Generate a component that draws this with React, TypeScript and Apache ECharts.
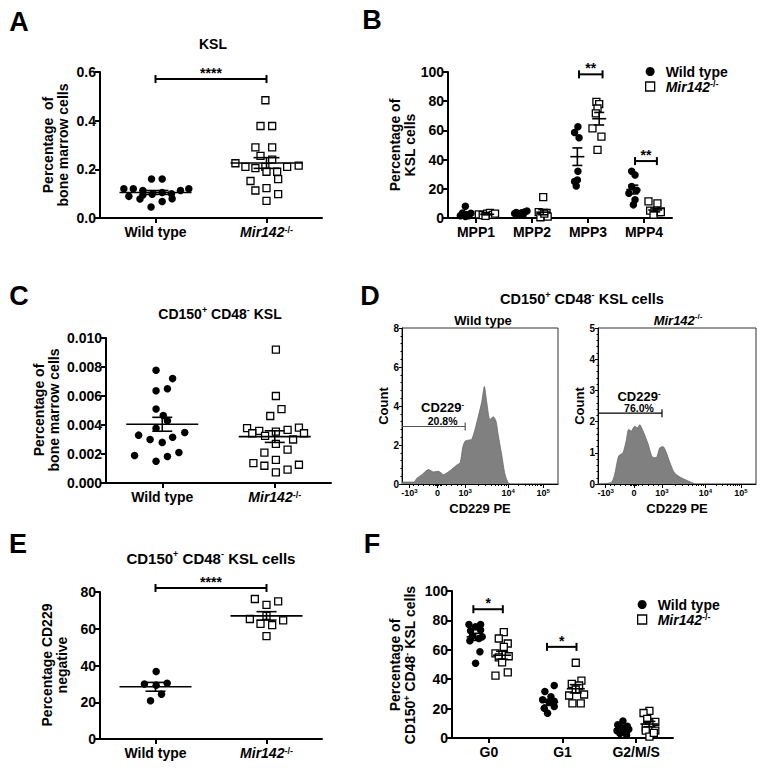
import React, { useEffect, useRef } from "react";
import * as echarts from "echarts";

const FONT = '"Liberation Sans", Arial, Helvetica, sans-serif';

// ---------------- Panel A: KSL ----------------
const groupLabels = ["Wild type", "Mir142-/-"];
const aWildType: number[][] = [
  [-0.285, 0.12], [-0.2, 0.12], [-0.114, 0.113], [-0.24, 0.089], [-0.14, 0.078],
  [-0.036, 0.16], [0.06, 0.16], [-0.03, 0.098], [-0.04, 0.045], [0.06, 0.068],
  [0.15, 0.079], [0.225, 0.113], [0.3, 0.12], [0.06, 0.105], [0.144, 0.1], [-0.114, 0.095],
];
const aMir142: number[][] = [
  [-0.01, 0.484], [-0.054, 0.378], [0.051, 0.378], [-0.1, 0.29], [0.051, 0.29],
  [-0.054, 0.255], [0.051, 0.24], [-0.28, 0.225], [-0.19, 0.21], [-0.1, 0.205],
  [-0.01, 0.21], [0.186, 0.21], [0.29, 0.215], [0, 0.19], [0.096, 0.19],
  [-0.144, 0.152], [0.105, 0.16], [-0.1, 0.113], [0, 0.123], [0.105, 0.098], [0, 0.07],
];
const aMean = [0.105, 0.226];
const aSem = [0.008, 0.022];
const aSig = [[0.5, 1.5, 0.571]];
const aSigLabels = ["****"];

// ---------------- Panel B: MPP subsets ----------------
const mppCategories = ["MPP1", "MPP2", "MPP3", "MPP4"];
const bWildType: number[][][] = [
  [[0, 8], [-0.05, 3.4], [-0.09, 1.6], [0.06, 1.6], [0, 1], [0.1, 3.2], [0.02, 2.3]],
  [[-0.12, 3], [-0.06, 2.5], [0, 3.5], [0.05, 4], [0.1, 4.8], [0.03, 2], [-0.09, 3.8]],
  [[0.01, 62.5], [-0.05, 58.6], [0.03, 55], [0.01, 32], [0, 26], [-0.02, 22], [-0.05, 25]],
  [[-0.03, 32], [0.03, 29.5], [-0.03, 21.6], [0.06, 19], [-0.08, 17], [0.03, 12.5], [0, 9]],
];
const bMir142: number[][][] = [
  [[-0.15, 2.5], [-0.08, 2], [0, 3], [0.05, 3.5], [0.1, 2.2], [0.14, 3], [-0.03, 1.5]],
  [[0, 14.3], [-0.08, 4], [0.06, 3.5], [0, 1.5], [-0.05, 0.5], [0.08, 1], [0.02, 3]],
  [[-0.05, 79.5], [0, 78], [-0.03, 75], [-0.06, 71.6], [-0.12, 61.4], [0.04, 55.7], [-0.03, 46.6]],
  [[-0.12, 11.4], [0.04, 10], [-0.09, 5], [0.06, 4], [0.1, 4.5], [-0.03, 2.3], [0.1, 4]],
];
const bWtMean = [2.8, 3.4, 42, 19.5];
const bWtSem = [1, 0.4, 6, 3];
const bMirMean = [2.5, 4, 68, 5.5];
const bMirSem = [0.3, 1.8, 4.3, 1.3];
const bSig = [[2.34, 2.76, 98.4], [3.34, 3.73, 39]];
const bSigLabels = ["**", "**"];

// ---------------- Panel C: CD150+ CD48- KSL ----------------
const cWildType: number[][] = [
  [-0.055, 0.00778], [0.092, 0.0072], [-0.055, 0.00636], [0.046, 0.0065], [-0.055, 0.0051],
  [0.009, 0.00465], [0.046, 0.0043], [-0.055, 0.00378], [-0.21, 0.0033], [0.2, 0.00348],
  [-0.108, 0.003], [0, 0.0028], [0.092, 0.00316], [-0.246, 0.0019], [-0.055, 0.0015],
  [0.046, 0.00183], [0.148, 0.0021],
];
const cMir142: number[][] = [
  [0.01, 0.0092], [0.01, 0.006], [0.06, 0.0051], [-0.04, 0.00462], [-0.246, 0.00378],
  [-0.138, 0.0036], [-0.2, 0.00343], [-0.086, 0.00325], [0.01, 0.00355], [0.114, 0.00366],
  [0.215, 0.00382], [0.26, 0.00343], [0.163, 0.003], [0.01, 0.0027], [0.114, 0.0023],
  [-0.092, 0.0021], [-0.19, 0.00137], [-0.092, 0.00119], [0.01, 0.0016], [0.01, 0.00073],
  [0.114, 0.00092], [0.215, 0.00126],
];
const cMean = [0.00405, 0.0032];
const cSem = [0.00048, 0.0004];

// ---------------- Panel D: CD229 PE histograms ----------------
const dTickPositions = [48, 228, 405, 680, 905];
const dTickLabels = ["-10{s|3}", "0", "10{s|3}", "10{s|4}", "10{s|5}"];
const dWildType: number[][] = [
  [0, 0.1], [75, 0.1], [96, 0.3], [128, 0.48], [170, 0.74], [202, 0.62], [234, 0.65],
  [266, 0.48], [309, 0.69], [351, 0.97], [373, 1.1], [390, 1.9], [405, 2.2], [426, 2.25],
  [447, 2.3], [468, 2.8], [490, 3.5], [511, 4.2], [528, 5.0], [543, 4.2], [564, 3.3],
  [585, 3.45], [603, 3.2], [617, 2.5], [639, 1.5], [660, 0.5], [681, 0.05], [692, 0],
];
const dMir142: number[][] = [
  [0, 0], [84, 0.05], [105, 0.3], [131, 0.9], [158, 1.0], [179, 1.4], [194, 1.75],
  [211, 1.7], [232, 1.85], [250, 1.8], [264, 1.9], [285, 1.7], [316, 1.3], [348, 0.85],
  [369, 0.85], [390, 1.15], [411, 1.2], [433, 1.0], [454, 0.7], [485, 0.35], [527, 0.2],
  [570, 0.1], [601, 0.03], [612, 0],
];
const dGates = [[0, 405, 2.95], [0, 405, 2.27]];
const dGateNames = ["CD229{s|-}", "CD229{s|-}"];
const dGatePercents = ["20.8%", "76.0%"];

// ---------------- Panel E: CD229 negative ----------------
const eWildType: number[][] = [
  [0.006, 36.7], [-0.1, 29.9], [0.006, 29.3], [0.105, 30.3], [-0.045, 20.8], [0.054, 24.4],
];
const eMir142: number[][] = [
  [-0.105, 76.2], [0, 73], [0.105, 74.9], [-0.15, 65.3], [-0.054, 62.6], [0.051, 62],
  [0.15, 64.6], [0, 56], [0, 67],
];
const eMean = [28.4, 67];
const eSem = [2.4, 2.3];
const eSig = [[0.5, 1.5, 82.2]];
const eSigLabels = ["****"];

// ---------------- Panel F: cell cycle ----------------
const cycleCategories = ["G0", "G1", "G2/M/S"];
const fWildType: number[][][] = [
  [[-0.09, 77.2], [0.068, 77.2], [0, 75.6], [-0.068, 72.9], [0.068, 73.4], [-0.045, 69.3],
   [0.045, 67.7], [-0.077, 66.1], [0.09, 68.8], [0.059, 58.7], [0, 50.8]],
  [[-0.059, 31.6], [0.068, 35.7], [0.023, 28], [0, 24.2], [-0.09, 26], [0.068, 25],
   [-0.068, 20.3], [-0.023, 16.9], [0.068, 21.4]],
  [[0, 11.5], [-0.07, 9], [0.06, 8], [-0.03, 7], [0.08, 6], [-0.08, 5], [0.03, 4],
   [-0.04, 3], [0.05, 2], [0, 6.5]],
];
const fMir142: number[][][] = [
  [[0.023, 72], [-0.045, 67.7], [0.077, 64.3], [0.023, 62], [-0.09, 57.6], [0.09, 55.6],
   [-0.045, 54.9], [0, 51.5], [-0.09, 42.5], [0.077, 44.7]],
  [[0, 51.2], [0.077, 39], [-0.054, 36.8], [0.045, 35.7], [-0.09, 28.9], [0.113, 29.6],
   [-0.045, 23.5], [0.068, 23.5], [0, 33]],
  [[0, 18.5], [-0.08, 17], [0.08, 11], [0, 10], [-0.05, 7], [0.08, 5], [-0.05, 5],
   [0, 1], [0.06, 3.5], [-0.03, 13]],
];
const fWtMean = [68.8, 24.3, 6.3];
const fWtSem = [2.4, 2, 1];
const fMirMean = [56.3, 33.5, 9.5];
const fMirSem = [2.7, 2.8, 1.8];
const fSig = [[0.29, 0.69, 87.6], [1.29, 1.69, 62]];
const fSigLabels = ["*", "*"];

// ---------------- helpers ----------------
const place = (pts: number[][], center: number) => pts.map(([dx, v]) => [center + dx, v]);
const spread = (groups: number[][][], offset: number) =>
  groups.flatMap((pts, ci) => place(pts, ci + 0.5 + offset));
const meanData = (means: number[], sems: number[], offset: number) =>
  means.map((m, i) => [i + 0.5 + offset, m, sems[i]]);

const richSup = {
  i: { fontFamily: FONT, fontWeight: "bold", fontStyle: "italic", fontSize: 14, color: "#000" },
  s: { fontFamily: FONT, fontWeight: "bold", fontSize: 9, color: "#000", verticalAlign: "top" },
};
const fmtGroup = (s: string) => (s.startsWith("Mir142") ? "{i|Mir142}{s|-/-}" : s);

const catX = (gi: number, cats: string[]) => {
  const pos = cats.map((_, i) => i + 0.5);
  return {
    type: "value", gridIndex: gi, min: 0, max: cats.length, position: "bottom",
    axisLine: { show: true, onZero: false, lineStyle: { color: "#000", width: 2 } },
    axisTick: { show: true, length: 5, customValues: pos, lineStyle: { color: "#000", width: 2 } },
    axisLabel: {
      show: true, customValues: pos, margin: 7,
      formatter: (v: number) => fmtGroup(cats[Math.round(v - 0.5)] ?? ""),
      fontFamily: FONT, fontWeight: "bold", fontSize: 14, color: "#000", rich: richSup,
    },
    splitLine: { show: false },
  };
};

const valY = (gi: number, max: number, interval: number, dec: number) => ({
  type: "value", gridIndex: gi, min: 0, max, interval,
  axisLine: { show: true, onZero: false, lineStyle: { color: "#000", width: 2 } },
  axisTick: { show: true, length: 5, lineStyle: { color: "#000", width: 2 } },
  axisLabel: {
    formatter: (v: number) => v.toFixed(dec), margin: 4,
    fontFamily: FONT, fontWeight: "bold", fontSize: 14, color: "#000",
  },
  splitLine: { show: false },
});

const dX = (gi: number) => ({
  type: "value", gridIndex: gi, min: 0, max: 1000, position: "bottom",
  name: "CD229 PE", nameLocation: "middle", nameGap: 18,
  nameTextStyle: { fontFamily: FONT, fontWeight: "bold", fontSize: 13, color: "#000" },
  axisLine: { show: true, onZero: false, lineStyle: { color: "#000", width: 1 } },
  axisTick: { show: true, length: 4, customValues: dTickPositions, lineStyle: { color: "#000", width: 1 } },
  axisLabel: {
    show: true, customValues: dTickPositions, margin: 4,
    formatter: (v: number) => {
      const k = dTickPositions.findIndex((p) => Math.abs(p - v) < 0.5);
      return k >= 0 ? dTickLabels[k] : "";
    },
    fontFamily: FONT, fontWeight: "bold", fontSize: 9, color: "#000",
    rich: { s: { fontFamily: FONT, fontWeight: "bold", fontSize: 6, color: "#000", verticalAlign: "top" } },
  },
  splitLine: { show: false },
});

const minorPositions = (() => {
  const out: number[] = [];
  const [, z, p3, p4, p5] = dTickPositions;
  [0.04, 0.08, 0.15, 0.3, 0.5, 0.7, 0.85].forEach((f) => {
    out.push(z - (z - dTickPositions[0]) * f, z + (p3 - z) * f);
  });
  for (let k = 2; k <= 9; k++) {
    out.push(p3 + (p4 - p3) * Math.log10(k));
    out.push(p4 + (p5 - p4) * Math.log10(k));
  }
  return out;
})();

const dMinorX = (gi: number) => ({
  type: "value", gridIndex: gi, min: 0, max: 1000, position: "bottom",
  axisLine: { show: false, onZero: false },
  axisTick: { show: true, length: 2, customValues: minorPositions, lineStyle: { color: "#000", width: 1 } },
  axisLabel: { show: false },
  splitLine: { show: false },
});

const dY = (gi: number, max: number, interval: number) => ({
  type: "value", gridIndex: gi, min: 0, max, interval,
  axisLine: { show: true, onZero: false, lineStyle: { color: "#000", width: 1 } },
  axisTick: { show: true, length: 3, lineStyle: { color: "#000", width: 1 } },
  minorTick: { show: true, splitNumber: 5, length: 1.5, lineStyle: { color: "#000", width: 1 } },
  axisLabel: { margin: 3, fontFamily: FONT, fontWeight: "bold", fontSize: 10, color: "#000" },
  splitLine: { show: false },
  minorSplitLine: { show: false },
});

const wtScatter = (gi: number, data: number[][]) => ({
  type: "scatter", name: "Wild type", xAxisIndex: gi, yAxisIndex: gi, data,
  symbol: "circle", symbolSize: 7.5, itemStyle: { color: "#000", opacity: 1 }, clip: false, z: 2,
});
const koScatter = (gi: number, data: number[][]) => ({
  type: "scatter", name: "Mir142", xAxisIndex: gi, yAxisIndex: gi, data,
  symbol: "rect", symbolSize: 7,
  itemStyle: { color: "#fff", borderColor: "#000", borderWidth: 1.3, opacity: 1 },
  clip: false, z: 2,
});

const meanSem = (gi: number, data: number[][], hw: number, cw: number) => ({
  type: "custom", xAxisIndex: gi, yAxisIndex: gi, data, z: 5, clip: false, silent: true,
  renderItem: (_p: any, api: any) => {
    const x = api.value(0), m = api.value(1), s = api.value(2);
    const [cx, cy] = api.coord([x, m]);
    const ty = api.coord([x, m + s])[1];
    const by = api.coord([x, m - s])[1];
    const st = { stroke: "#000", lineWidth: 1.6 };
    return {
      type: "group",
      children: [
        { type: "line", shape: { x1: cx - hw, y1: cy, x2: cx + hw, y2: cy }, style: st },
        { type: "line", shape: { x1: cx, y1: ty, x2: cx, y2: by }, style: st },
        { type: "line", shape: { x1: cx - cw, y1: ty, x2: cx + cw, y2: ty }, style: st },
        { type: "line", shape: { x1: cx - cw, y1: by, x2: cx + cw, y2: by }, style: st },
      ],
    };
  },
});

const sigBars = (gi: number, data: number[][], labels: string[]) => ({
  type: "custom", xAxisIndex: gi, yAxisIndex: gi, data, z: 5, clip: false, silent: true,
  renderItem: (p: any, api: any) => {
    const a = api.coord([api.value(0), api.value(2)]);
    const b = api.coord([api.value(1), api.value(2)]);
    const st = { stroke: "#000", lineWidth: 2 };
    return {
      type: "group",
      children: [
        { type: "line", shape: { x1: a[0], y1: a[1], x2: b[0], y2: b[1] }, style: st },
        { type: "line", shape: { x1: a[0], y1: a[1] - 4, x2: a[0], y2: a[1] + 4 }, style: st },
        { type: "line", shape: { x1: b[0], y1: b[1] - 4, x2: b[0], y2: b[1] + 4 }, style: st },
        {
          type: "text", x: (a[0] + b[0]) / 2, y: a[1] + 1,
          style: {
            text: labels[p.dataIndex], fill: "#000", fontFamily: FONT, fontWeight: "bold",
            fontSize: 14, align: "center", verticalAlign: "bottom",
          },
        },
      ],
    };
  },
});

const gateSeries = (gi: number, k: number, color: string, labelDy: number) => ({
  type: "custom", xAxisIndex: gi, yAxisIndex: gi, data: [dGates[k]], z: 5, clip: false, silent: true,
  renderItem: (_p: any, api: any) => {
    const a = api.coord([api.value(0), api.value(2)]);
    const b = api.coord([api.value(1), api.value(2)]);
    const mid = (a[0] + b[0]) / 2 + 9;
    const st = { stroke: color, lineWidth: 1.2 };
    return {
      type: "group",
      children: [
        { type: "line", shape: { x1: a[0], y1: a[1], x2: b[0], y2: b[1] }, style: st },
        { type: "line", shape: { x1: b[0], y1: b[1] - 4, x2: b[0], y2: b[1] + 4 }, style: st },
        {
          type: "text", x: mid, y: a[1] - labelDy,
          style: {
            text: dGateNames[k], fill: "#000", fontFamily: FONT, fontWeight: "bold", fontSize: 13,
            align: "center", verticalAlign: "middle",
            rich: { s: { fontFamily: FONT, fontWeight: "bold", fontSize: 8, fill: "#000", verticalAlign: "top" } },
          },
        },
        {
          type: "text", x: mid, y: a[1] - 5,
          style: {
            text: dGatePercents[k], fill: "#000", fontFamily: FONT, fontWeight: "bold", fontSize: 10.5,
            align: "center", verticalAlign: "middle",
          },
        },
      ],
    };
  },
});

const histSeries = (gi: number, data: number[][]) => ({
  type: "line", xAxisIndex: gi, yAxisIndex: gi, data, smooth: 0.25, symbol: "none",
  lineStyle: { color: "#6a6a6a", width: 0.8 },
  areaStyle: { color: "#808080", opacity: 1 },
  z: 2, silent: true,
});

const legendCfg = (left: number, top: number) => ({
  left, top, orient: "vertical", itemGap: 0, itemWidth: 9, itemHeight: 9, padding: 0,
  selectedMode: false,
  data: [
    { name: "Wild type", icon: "circle", itemStyle: { color: "#000", opacity: 1 } },
    { name: "Mir142", icon: "rect", itemStyle: { color: "#fff", borderColor: "#000", borderWidth: 1.3 } },
  ],
  formatter: (n: string) => (n === "Mir142" ? "{i|Mir142}{s|-/-}" : n),
  textStyle: {
    fontFamily: FONT, fontWeight: "bold", fontSize: 14, color: "#000", lineHeight: 15,
    padding: [0, 0, 0, 6], rich: richSup,
  },
});

const txt = (text: string, x: number, y: number, size: number, rot = 0, lineHeight?: number) => ({
  type: "text", x, y, rotation: rot, silent: true,
  style: {
    text, fill: "#000", fontFamily: FONT, fontWeight: "bold", fontSize: size,
    lineHeight: lineHeight ?? Math.round(size * 1.2),
    align: "center", verticalAlign: "middle", textAlign: "center", textVerticalAlign: "middle",
    rich: {
      s: { fontFamily: FONT, fontWeight: "bold", fontSize: Math.round(size * 0.62), fill: "#000", verticalAlign: "top" },
      i: { fontFamily: FONT, fontWeight: "bold", fontStyle: "italic", fontSize: size, fill: "#000" },
    },
  },
});
const V = Math.PI / 2;

export default function App() {
  const ref = useRef<HTMLDivElement>(null);
  useEffect(() => {
    if (!ref.current) return;
    const chart = echarts.init(ref.current, undefined, { renderer: "svg" });
    const option: any = {
      animation: false,
      backgroundColor: "#fff",
      textStyle: { fontFamily: FONT },
      grid: [
        { left: 100, top: 72, width: 222, height: 146 },
        { left: 448, top: 72, width: 224, height: 146 },
        { left: 106, top: 338, width: 225, height: 145 },
        { left: 402, top: 328, width: 156, height: 156, show: true, borderColor: "#333", borderWidth: 1 },
        { left: 598, top: 328, width: 158, height: 156, show: true, borderColor: "#333", borderWidth: 1 },
        { left: 100, top: 592, width: 222, height: 147 },
        { left: 452, top: 591, width: 221, height: 147 },
      ],
      xAxis: [
        catX(0, groupLabels),
        catX(1, mppCategories),
        catX(2, groupLabels),
        dX(3),
        dX(4),
        catX(5, groupLabels),
        catX(6, cycleCategories),
        dMinorX(3),
        dMinorX(4),
      ],
      yAxis: [
        valY(0, 0.6, 0.2, 1),
        valY(1, 100, 20, 0),
        valY(2, 0.01, 0.002, 3),
        dY(3, 8, 2),
        dY(4, 5, 1),
        valY(5, 80, 20, 0),
        valY(6, 100, 20, 0),
      ],
      legend: [legendCfg(645, 64), legendCfg(637, 597)],
      series: [
        // A
        wtScatter(0, place(aWildType, 0.5)),
        koScatter(0, place(aMir142, 1.5)),
        meanSem(0, [[0.5, aMean[0], aSem[0]], [1.5, aMean[1], aSem[1]]], 36, 13),
        sigBars(0, aSig, aSigLabels),
        // B
        wtScatter(1, spread(bWildType, -0.19)),
        koScatter(1, spread(bMir142, 0.2)),
        meanSem(1, meanData(bWtMean, bWtSem, -0.19), 7, 5),
        meanSem(1, meanData(bMirMean, bMirSem, 0.2), 7, 5),
        sigBars(1, bSig, bSigLabels),
        // C
        wtScatter(2, place(cWildType, 0.5)),
        koScatter(2, place(cMir142, 1.5)),
        meanSem(2, [[0.5, cMean[0], cSem[0]], [1.5, cMean[1], cSem[1]]], 36, 10),
        // D
        histSeries(3, dWildType),
        histSeries(4, dMir142),
        gateSeries(3, 0, "#555", 19),
        gateSeries(4, 1, "#000", 17),
        // E
        wtScatter(5, place(eWildType, 0.5)),
        koScatter(5, place(eMir142, 1.5)),
        meanSem(5, [[0.5, eMean[0], eSem[0]], [1.5, eMean[1], eSem[1]]], 36, 10),
        sigBars(5, eSig, eSigLabels),
        // F
        wtScatter(6, spread(fWildType, -0.18)),
        koScatter(6, spread(fMir142, 0.18)),
        meanSem(6, meanData(fWtMean, fWtSem, -0.18), 9, 6),
        meanSem(6, meanData(fMirMean, fMirSem, 0.18), 9, 6),
        sigBars(6, fSig, fSigLabels),
      ],
      graphic: [
        txt("A", 19, 22, 27),
        txt("B", 372, 20, 27),
        txt("C", 19, 296, 27),
        txt("D", 370, 296, 27),
        txt("E", 18, 544, 27),
        txt("F", 372, 544, 27),
        txt("KSL", 213, 44, 14),
        txt("CD150{s|+} CD48{s|-} KSL", 220, 314, 14),
        txt("CD150{s|+} CD48{s|-} KSL cells", 582, 299, 14.5),
        txt("Wild type", 483, 320, 13),
        txt("{i|Mir142}{s|-/-}", 678, 320, 13),
        txt("CD150{s|+} CD48{s|-} KSL cells", 211, 558, 15),
        // y-axis titles
        txt("Percentage  of\nbone marrow cells", 55.5, 145, 14, V, 15),
        txt("Percentage of\nKSL cells", 402.5, 145, 14, V, 15),
        txt("Percentage of\nbone marrow cells", 46, 410, 14, V, 15),
        txt("Count", 383, 406, 13, V),
        txt("Count", 579, 406, 13, V),
        txt("Percentage CD229\nnegative", 54.5, 665, 14, V, 15),
        txt("Percentage of\nCD150{s|+} CD48{s|-} KSL cells", 402.5, 665, 14, V, 15),
      ],
    };
    chart.setOption(option);
    return () => chart.dispose();
  }, []);
  return (
    <div
      ref={ref}
      style={{ position: "absolute", left: 0, top: 0, width: 764, height: 768, background: "#fff" }}
    />
  );
}
